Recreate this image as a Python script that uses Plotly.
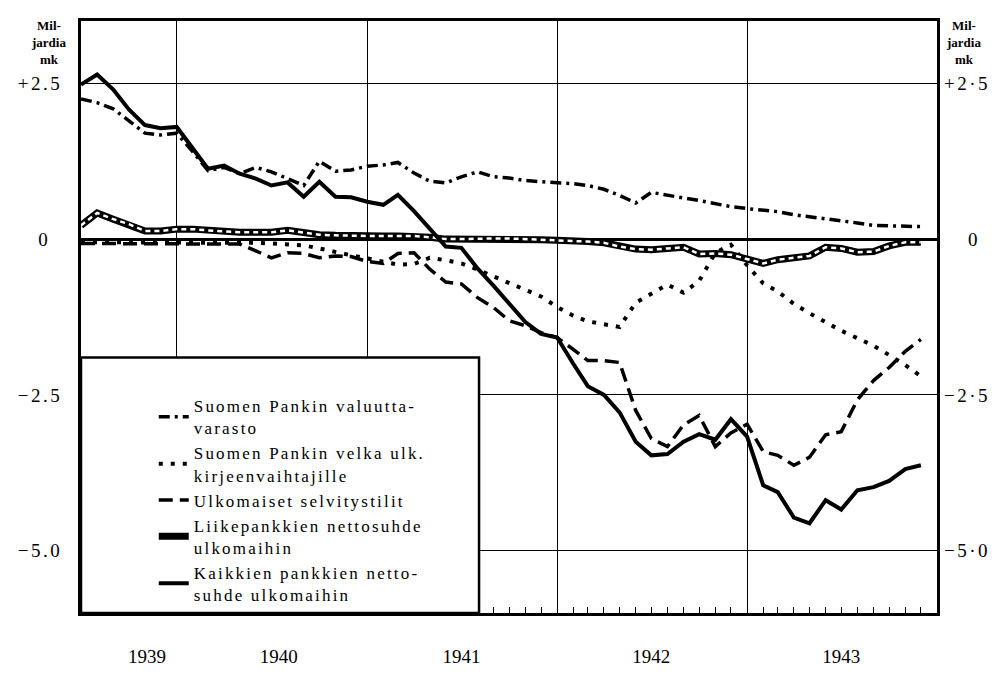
import pandas as pd
import plotly.graph_objects as go

# Monthly observations, end-June 1939 ... end-Nov 1943 (plotted at month boundaries)
months = pd.date_range("1939-07-01", periods=54, freq="MS")

valuuttavarasto = [2.25, 2.19, 2.09, 1.89, 1.70, 1.67, 1.70, 1.40, 1.10, 1.15,
                   1.05, 1.15, 1.08, 0.97, 0.86, 1.25, 1.09, 1.11, 1.17, 1.19,
                   1.23, 1.06, 0.93, 0.90, 1.00, 1.08, 1.00, 0.98, 0.94, 0.92,
                   0.91, 0.89, 0.86, 0.80, 0.70, 0.58, 0.75, 0.70, 0.66, 0.62,
                   0.57, 0.52, 0.49, 0.47, 0.44, 0.39, 0.36, 0.33, 0.29, 0.26,
                   0.22, 0.21, 0.20, 0.20]

velka_kirjeenvaihtajille = [-0.05, -0.05, -0.05, -0.05, -0.05, -0.05, -0.05, -0.05, -0.05, -0.05,
                            -0.05, -0.06, -0.07, -0.08, -0.10, -0.15, -0.21, -0.26, -0.31, -0.37,
                            -0.41, -0.40, -0.30, -0.34, -0.39, -0.49, -0.60, -0.70, -0.82, -0.92,
                            -1.09, -1.23, -1.32, -1.37, -1.41, -1.02, -0.87, -0.73, -0.86, -0.67,
                            -0.22, -0.09, -0.42, -0.71, -0.84, -1.04, -1.19, -1.34, -1.47, -1.59,
                            -1.71, -1.86, -2.02, -2.20]

selvitystilit = [-0.07, -0.07, -0.07, -0.07, -0.07, -0.07, -0.07, -0.07, -0.07, -0.07,
                 -0.08, -0.19, -0.30, -0.22, -0.23, -0.30, -0.27, -0.28, -0.36, -0.39,
                 -0.23, -0.22, -0.48, -0.69, -0.72, -0.94, -1.10, -1.31, -1.39, -1.50,
                 -1.58, -1.77, -1.95, -1.95, -1.98, -2.75, -3.20, -3.33, -2.98, -2.83,
                 -3.33, -3.11, -2.97, -3.41, -3.47, -3.63, -3.50, -3.14, -3.09, -2.58,
                 -2.27, -2.06, -1.80, -1.61]

liikepankit = [0.22, 0.42, 0.32, 0.24, 0.13, 0.13, 0.16, 0.16, 0.14, 0.12,
               0.11, 0.11, 0.11, 0.14, 0.10, 0.07, 0.06, 0.05, 0.05, 0.05,
               0.05, 0.05, 0.03, 0.00, 0.00, 0.01, 0.01, 0.01, 0.00, -0.01,
               -0.02, -0.02, -0.04, -0.06, -0.12, -0.16, -0.17, -0.15, -0.13, -0.24,
               -0.23, -0.25, -0.32, -0.39, -0.33, -0.30, -0.27, -0.13, -0.15, -0.21,
               -0.20, -0.11, -0.05, -0.05]

kaikki_pankit = [2.48, 2.64, 2.40, 2.08, 1.83, 1.78, 1.80, 1.44, 1.13, 1.18,
                 1.05, 0.97, 0.86, 0.91, 0.68, 0.92, 0.68, 0.67, 0.60, 0.55,
                 0.71, 0.45, 0.16, -0.12, -0.14, -0.47, -0.75, -1.03, -1.33, -1.52,
                 -1.58, -2.00, -2.36, -2.50, -2.78, -3.25, -3.47, -3.45, -3.25, -3.13,
                 -3.22, -2.89, -3.17, -3.95, -4.06, -4.47, -4.56, -4.19, -4.34, -4.03,
                 -3.98, -3.88, -3.69, -3.63]

names = ["Suomen Pankin valuutta-<br>varasto",
         "Suomen Pankin velka ulk.<br>kirjeenvaihtajille",
         "Ulkomaiset selvitystilit",
         "Liikepankkien nettosuhde<br>ulkomaihin",
         "Kaikkien pankkien netto-<br>suhde ulkomaihin"]

year_starts = ["1940-01-01", "1941-01-01", "1942-01-01", "1943-01-01"]
year_label_pos = ["1939-11-05", "1940-07-15", "1941-07-01", "1942-07-01", "1943-07-01"]
year_labels = ["1939", "1940", "1941", "1942", "1943"]
y_ticks = [2.5, 0, -2.5, -5.0]
y_left_text = ["+2.5", "0\u2007", "\u22122.5", "\u22125.0"]
y_right_text = ["+2\u00b75", "\u2007\u20070", "\u22122\u00b75", "\u22125\u00b70"]

FONT = "Liberation Serif"
XR = ["1939-07-01", "1944-01-01"]
YR = [-6.0, 3.5]


def spaced(t, px):
    return '<span style="font-family:Liberation Serif;letter-spacing:%spx">%s</span>' % (px, t)


fig = go.Figure()
fig.add_trace(go.Scatter(x=months, y=valuuttavarasto, mode="lines", name=spaced(names[0], 2.2),
                         line=dict(color="black", width=3.5, dash="11px,5px,3px,5px")))
fig.add_trace(go.Scatter(x=months, y=velka_kirjeenvaihtajille, mode="lines", name=spaced(names[1], 2.2),
                         line=dict(color="black", width=4, dash="4px,8px")))
fig.add_trace(go.Scatter(x=months, y=selvitystilit, mode="lines", name=spaced(names[2], 2.2),
                         line=dict(color="black", width=3.5, dash="14px,7px")))
fig.add_trace(go.Scatter(x=months, y=liikepankit, mode="lines", name=spaced(names[3], 2.2),
                         line=dict(color="black", width=7)))
fig.add_trace(go.Scatter(x=months, y=liikepankit, mode="lines", showlegend=False,
                         hoverinfo="skip", line=dict(color="white", width=2.5, dash="5px,4px")))
fig.add_trace(go.Scatter(x=months, y=kaikki_pankit, mode="lines", name=spaced(names[4], 2.2),
                         line=dict(color="black", width=4)))
# invisible carrier so the secondary (label-only) axes get drawn
fig.add_trace(go.Scatter(x=months, y=kaikki_pankit, mode="lines", xaxis="x2", yaxis="y2",
                         showlegend=False, hoverinfo="skip", opacity=0,
                         line=dict(color="rgba(0,0,0,0)", width=0)))

fig.update_layout(
    width=992, height=669,
    margin=dict(l=60, r=57, t=10, b=52),
    paper_bgcolor="white", plot_bgcolor="white",
    font=dict(family=FONT, color="black", size=16),
    xaxis=dict(type="date", range=XR, tickmode="array", tickvals=year_starts,
               showticklabels=False, ticks="", showgrid=True, gridcolor="black", gridwidth=1,
               showline=True, linecolor="black", linewidth=3, mirror=True, zeroline=False,
               minor=dict(tickmode="linear", tick0="1939-07-01", dtick="M1", ticks="inside",
                          ticklen=6, tickwidth=1, tickcolor="black", showgrid=False)),
    xaxis2=dict(type="date", range=XR, overlaying="x", anchor="y", side="bottom",
                tickmode="array", tickvals=year_label_pos, ticktext=year_labels,
                showgrid=False, showline=False, ticks="", zeroline=False,
                ticklabelstandoff=30, tickfont=dict(size=19, family=FONT)),
    yaxis=dict(range=YR, tickmode="array", tickvals=y_ticks,
               ticktext=[spaced(t, 2.5) for t in y_left_text],
               showgrid=True, gridcolor="black", gridwidth=1, zeroline=True,
               zerolinecolor="black", zerolinewidth=2.5, ticks="",
               showline=True, linecolor="black", linewidth=3, mirror=True,
               ticklabelstandoff=12, tickfont=dict(size=19, family=FONT)),
    yaxis2=dict(range=YR, overlaying="y", side="right", anchor="x", tickmode="array",
                tickvals=y_ticks, ticktext=[spaced(t, 2.5) for t in y_right_text],
                showgrid=False, zeroline=False, showline=False, ticks="",
                ticklabelstandoff=6, tickfont=dict(size=19, family=FONT)),
    showlegend=True,
    legend=dict(x=0.085, y=0.38, xanchor="left", yanchor="top",
                bgcolor="rgba(0,0,0,0)", borderwidth=0,
                font=dict(family=FONT, size=17, color="black"),
                traceorder="normal"),
    shapes=[dict(type="rect", xref="paper", yref="paper", x0=0, x1=0.465, y0=0, y1=0.4316,
                 fillcolor="white", line=dict(color="black", width=2.5), layer="above")],
    annotations=[
        dict(text="<b>Mil-<br>jardia<br>mk</b>", xref="paper", yref="paper", x=-0.038, y=1.008,
             xanchor="center", yanchor="top", showarrow=False, align="center",
             font=dict(family=FONT, size=13, color="black")),
        dict(text="<b>Mil-<br>jardia<br>mk</b>", xref="paper", yref="paper", x=1.031, y=1.008,
             xanchor="center", yanchor="top", showarrow=False, align="center",
             font=dict(family=FONT, size=13, color="black")),
    ],
)

fig.write_html("out.html")
